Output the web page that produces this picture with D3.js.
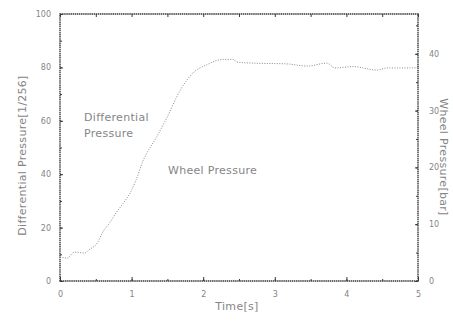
<!DOCTYPE html>
<html>
<head>
<meta charset="utf-8">
<script src="https://cdn.jsdelivr.net/npm/d3@7"></script>
<style>
  body { margin: 0; background: #fff; }
  text { font-family: "DejaVu Sans", sans-serif; }
</style>
</head>
<body>
<svg id="chart"></svg>
<script>
// values
const time = [0, 0.1, 0.2, 0.35, 0.4, 0.53, 0.59, 0.7, 0.77, 0.88, 0.98, 1.05, 1.16, 1.35, 1.49, 1.68, 1.86, 2.05, 2.28, 2.42, 2.47, 2.7, 3.17, 3.45, 3.73, 3.84, 4.09, 4.43, 4.57, 4.93, 5];
const pressure = [9, 8.6, 10.8, 10.5, 11.6, 14.6, 18, 22, 25, 29, 33, 37, 45, 54, 61, 71.5, 78, 81, 83, 83, 82, 81.6, 81.3, 80.5, 81.6, 79.8, 80.3, 79, 79.8, 79.8, 80];
const leftTicks = [0, 20, 40, 60, 80, 100];
const rightTicks = [0, 10, 20, 30, 40];
const xTicks = [0, 1, 2, 3, 4, 5];

const config = {
  width: 453,
  height: 322,
  margin: { top: 14, right: 35, bottom: 41, left: 60 }
};

const svg = d3.select('#chart')
  .attr('width', config.width)
  .attr('height', config.height);

const width = config.width - config.margin.left - config.margin.right;
const height = config.height - config.margin.top - config.margin.bottom;

const chart = svg.append('g')
  .attr('transform', `translate(${config.margin.left},${config.margin.top})`);

const xScale = d3.scaleLinear().domain([0, 5]).range([0, width]);
const yScale = d3.scaleLinear().domain([0, 100]).range([height, 0]);
const y2Scale = d3.scaleLinear().domain([0, 47]).range([height, 0]);

const axisColor = '#3a3a3a';
const textColor = '#858585';

// frame
chart.append('rect')
  .attr('width', width)
  .attr('height', height)
  .attr('fill', 'none')
  .attr('stroke', axisColor)
  .attr('stroke-width', 1.4)
  .attr('stroke-dasharray', '1.5,0.6');

// ticks drawn inward
function styleAxis(g) {
  g.select('.domain').remove();
  g.selectAll('line').attr('stroke', axisColor).attr('stroke-width', 1);
  g.selectAll('text')
    .attr('fill', textColor)
    .style('font-size', '8px');
}

const xMinor = d3.range(0, 5.01, 0.5);
const yMinor = d3.range(0, 100.1, 10);
const y2Minor = d3.range(0, 47, 5);

chart.append('g')
  .attr('transform', `translate(0,${height})`)
  .call(d3.axisBottom(xScale).tickValues(xMinor).tickSize(-2).tickFormat(''))
  .call(styleAxis);
chart.append('g')
  .attr('transform', `translate(0,${height})`)
  .call(d3.axisBottom(xScale).tickValues(xTicks).tickSize(-4).tickPadding(10).tickFormat(d3.format('d')))
  .call(styleAxis);

chart.append('g')
  .call(d3.axisTop(xScale).tickValues(xMinor).tickSize(-3).tickFormat(''))
  .call(styleAxis);

chart.append('g')
  .call(d3.axisLeft(yScale).tickValues(yMinor).tickSize(-2).tickFormat(''))
  .call(styleAxis);
chart.append('g')
  .call(d3.axisLeft(yScale).tickValues(leftTicks).tickSize(-3).tickPadding(9).tickFormat(d3.format('d')))
  .call(styleAxis);

chart.append('g')
  .attr('transform', `translate(${width},0)`)
  .call(d3.axisRight(y2Scale).tickValues(y2Minor).tickSize(-2).tickFormat(''))
  .call(styleAxis);
chart.append('g')
  .attr('transform', `translate(${width},0)`)
  .call(d3.axisRight(y2Scale).tickValues(rightTicks).tickSize(-3).tickPadding(11).tickFormat(d3.format('d')))
  .call(styleAxis);

// the curve
const line = d3.line()
  .x((d, i) => xScale(time[i]))
  .y(d => yScale(d))
  .curve(d3.curveMonotoneX);

chart.append('path')
  .datum(pressure)
  .attr('d', line)
  .attr('fill', 'none')
  .attr('stroke', '#8a8a8a')
  .attr('stroke-width', 1)
  .attr('stroke-dasharray', '1,1.5');

// annotations
const annoSize = '11px';
chart.append('text')
  .attr('x', 24).attr('y', 107)
  .attr('fill', textColor)
  .style('font-size', annoSize)
  .style('letter-spacing', '0.3px')
  .text('Differential');
chart.append('text')
  .attr('x', 24).attr('y', 123)
  .attr('fill', textColor)
  .style('font-size', annoSize)
  .style('letter-spacing', '0.3px')
  .text('Pressure');
chart.append('text')
  .attr('x', 108).attr('y', 160)
  .attr('fill', textColor)
  .style('font-size', annoSize)
  .style('letter-spacing', '0.3px')
  .text('Wheel Pressure');

// axis labels
svg.append('text')
  .attr('transform', `translate(26,${config.margin.top + height / 2 + 8}) rotate(-90)`)
  .attr('text-anchor', 'middle')
  .attr('fill', textColor)
  .style('font-size', annoSize)
  .style('letter-spacing', '0.3px')
  .text('Differential Pressure[1/256]');

svg.append('text')
  .attr('transform', `translate(440,157) rotate(90)`)
  .attr('text-anchor', 'middle')
  .attr('fill', textColor)
  .style('font-size', annoSize)
  .style('letter-spacing', '0.3px')
  .text('Wheel Pressure[bar]');

svg.append('text')
  .attr('x', 237)
  .attr('y', 310)
  .attr('text-anchor', 'middle')
  .attr('fill', textColor)
  .style('font-size', annoSize)
  .style('letter-spacing', '0.3px')
  .text('Time[s]');
</script>
</body>
</html>
